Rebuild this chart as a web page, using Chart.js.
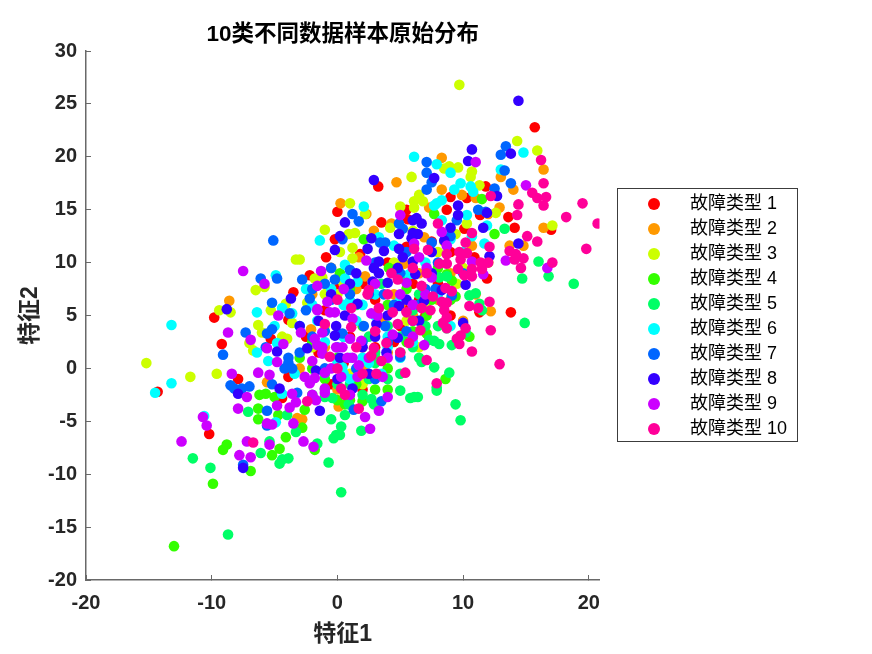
<!DOCTYPE html>
<html><head><meta charset="utf-8">
<style>html,body{margin:0;padding:0;background:#fff}canvas{display:block}</style>
<script src="https://cdn.jsdelivr.net/npm/chart.js@4"></script>
</head><body>
<canvas id="c" width="872" height="654"></canvas>
<script>
const chartTitle = "10类不同数据样本原始分布";
const xTitle = "特征1";
const yTitle = "特征2";
const seriesLabels = ["故障类型 1","故障类型 2","故障类型 3","故障类型 4","故障类型 5","故障类型 6","故障类型 7","故障类型 8","故障类型 9","故障类型 10"];
const seriesColors = ["#FF0000","#FF9900","#CCFF00","#33FF00","#00FF66","#00FFFF","#0066FF","#3300FF","#CC00FF","#FF0099"];

const type1 = [[15.7,22.8],[3.25,17.2],[9,16.2],[11.8,17.2],[10.3,16.1],[0,14.8],[8.7,15],[3.5,13.8],[13.6,14.3],[11.35,14.5],[14.1,13.3],[17,13.1],[10.1,13.2],[-0.2,12.2],[-0.9,10.5],[1.8,10.8],[-2.2,8.8],[11.9,8.5],[10.9,10.5],[5.5,15],[5.6,14.1],[13.8,5.3],[11.3,5.3],[-9.8,4.8],[-9.2,2.3],[-5.3,2.8],[-3.5,7.2],[-3.9,4.6],[-7.9,-1],[-10.2,-6.2],[-14.3,-2.2],[-3.9,-0.8],[-4.4,-2.8],[3,6.5],[5,4],[1,3],[6,8],[-1,5.5],[2,8],[4,10],[8,8],[7,5],[0.5,0.5],[3,2],[9,11],[7.5,12],[-2.5,3],[-1.5,1.5],[5.5,11.5],[5.5,5.5],[4.5,2.5],[0,7.5],[6.5,6.5],[9,5],[2,-2],[-0.5,-1.5]];
const type2 = [[-8.6,6.4],[-5.6,-1.3],[-3.2,-4.7],[0.25,15.6],[4.7,17.6],[16.4,18.8],[13,18.1],[14,16.9],[8.3,16.9],[9.9,16.4],[11,16.1],[8.3,19.9],[12.9,15.2],[16.4,13.3],[13.7,11.6],[14.8,11.6],[10.7,11.6],[6.9,12.4],[2.9,13],[2.3,14.6],[4.3,13.7],[1.7,10.5],[2.2,8.7],[5.3,9.9],[7.3,15.2],[12,14.6],[12.2,5.4],[0.1,-3.6],[-2.8,-4.8],[-2.1,3.7],[1,6],[-1,2],[3.5,4.5],[6,3],[8,6.5],[10,4.5],[-3,0],[0,-2],[4.5,7],[2,0],[11,7],[6.5,9],[9,9],[-0.5,9.5],[5,6],[6,5],[1.5,7.5],[4,1.5],[-2,7]];
const type3 = [[9.7,26.8],[14.3,21.5],[15.9,20.6],[17.1,13.5],[5.9,18.1],[9.6,19],[8.5,18.9],[8.9,19.1],[10.7,18.6],[10.6,18.1],[11.3,17.3],[1,15.6],[5,15.3],[6.1,15.8],[6.5,16.4],[6.8,15.8],[6.1,15.2],[12.6,14.7],[10.3,13.7],[4.2,13.3],[-1,13.1],[0.9,12.7],[1.4,12.8],[1.2,11.4],[0.2,11],[1.2,10.4],[9.4,12.7],[-3,10.3],[-1.8,8.5],[-1.2,8.6],[-0.7,7.5],[2.2,14.6],[-15.2,0.5],[-11.7,-0.8],[-9.6,-0.5],[-9.4,5.5],[-8.5,5.3],[-6.5,7.4],[-5.8,7.7],[-3.3,10.3],[-5.3,5.5],[-4.1,6.1],[-6.3,4.1],[-6,3.4],[-7,2.4],[-4.4,3],[-4,2.8],[-3.6,4.3],[-6.7,1.7],[-2.4,6.2],[3,8],[5,3],[-1,4],[7,6],[2,2],[1,-0.5],[8,11],[9.5,8],[4.5,10],[6,13],[12,10],[-2,2],[0,7],[5.5,4.5],[6.5,2],[-1,7],[0.5,8],[2,-1.5],[3,3.5],[10,9.5],[8.5,12]];
const type4 = [[-13,-16.8],[-9.9,-10.9],[-8.8,-7.2],[-9.1,-7.7],[-6.9,-9.7],[-6.2,-2.5],[-5.7,-2.4],[-6.3,-3.8],[-6.3,-4.8],[-4.1,-6.5],[-4.6,-7.6],[-5.2,-8.2],[-4.7,-4.4],[-5,-2.7],[-2.6,-3.9],[-2.8,-5.6],[-1.8,-7.7],[2,-3.1],[0.6,-3.4],[7.7,14.6],[11.5,16],[12.5,12.7],[2.1,12.2],[0.2,9],[4.1,9.5],[8.6,-1],[7.1,5],[7.1,3.3],[8.7,8.9],[9.1,8.3],[9.4,6.8],[0,1],[1.5,-1.5],[3,1],[5,1.5],[6,3.5],[7.5,6.5],[4,6],[2,4],[-1,-1],[-2,2.5],[1,-3],[4,0],[5.5,7.5],[9,6.5],[3,-2],[10.5,3],[-3,1],[5.5,2.5],[6.5,4.5],[1,7.5],[2.5,-0.5],[0,-3],[4,-2],[8,9.5],[-2,0]];
const type5 = [[-11.5,-8.5],[-10.1,-9.4],[-8.7,-15.7],[0.3,-11.7],[-7.1,-4.1],[-6.1,-8],[-4.6,-9],[-4.4,-8.6],[-3.9,-8.5],[-5.4,-6.9],[-3.3,-6],[-4,-4.4],[-0.7,-8.9],[-1.6,-7.1],[-0.3,-6.6],[-0.1,-6.3],[0.2,-6.3],[0.3,-5.5],[-0.5,-4.8],[0.6,-4.4],[1.9,-5.9],[9.4,-3.4],[9.8,-4.9],[7.9,-2.1],[5.8,-2.8],[6.1,-2.7],[6.4,-2.7],[5,-2.1],[2.7,-2.9],[2.9,-3.4],[0.9,-3.4],[-0.4,-2.8],[-1,-2.7],[18.8,8],[16,10.1],[16.8,8.7],[14.7,8.5],[14.9,4.3],[13.3,13.2],[11,7.1],[10.5,6.9],[11.3,6.1],[11.5,5.5],[8.9,-0.4],[7.7,0.1],[7.9,-1.8],[9.1,2.2],[10.2,3.4],[8.1,2.3],[7.3,2.7],[7.7,2.6],[8.7,3.8],[6.7,0.6],[8.7,8.7],[8.1,8.6],[3,0.5],[5,-0.5],[6,2],[2.5,-1],[0,-1.5],[-1,-0.5],[4,4],[1.5,6],[6,5.5],[8,4],[2.5,3],[-2,-2.5],[0.5,3],[3.5,8],[5,3],[6.5,1],[4,-1],[2,-2.5],[1,-1.5],[-1,-2],[7,4],[3,1.5],[8.5,6],[6.5,7],[5,8.5]];
const type6 = [[-13.2,4.1],[-13.2,-1.4],[-14.5,-2.3],[-10.6,-4.5],[-5.5,0.7],[-6.4,1.5],[-4.9,-5.1],[-4.4,-2.4],[-3.4,-0.5],[-6.4,5.3],[-4.9,8.8],[-5,4],[-4.4,5.7],[-3.6,5.2],[-4.8,2.4],[14.8,20.4],[6.1,20],[7.9,19.3],[9,18.5],[9.8,17.5],[9.3,16.9],[10.6,17.2],[10.8,16.7],[13,18.8],[8.3,15.9],[7.7,15.4],[7.9,15.6],[8.3,14],[2.1,15.3],[-1.4,12.1],[10.3,14.5],[11.9,13.5],[11.7,11.8],[9,12.2],[10.7,12.5],[3.3,12.4],[4.5,11.6],[0.6,9.8],[0.6,8.5],[1.6,8.2],[5.7,8.9],[0.4,0.1],[-1.6,4.5],[1,6.4],[0.5,3],[1,1],[2.5,0.5],[3.5,-0.5],[0.5,-0.5],[4,3],[6,6],[-1,2.5],[2,6],[3,5],[7,10],[8,7],[9,4],[-2,6],[1.5,4.5],[-3,4],[5,1],[0,0.5],[5,6.5],[6,2.5],[-0.5,7.5],[0.5,6],[2,1],[1,-1],[4,2],[-2.5,7.5],[3,7],[7.5,11],[10,11]];
const type7 = [[-5.1,12.1],[-6.1,8.5],[-4.8,8.5],[-5.2,6.2],[-3.8,5.2],[-7.3,3.4],[-5.6,3.3],[-5.2,3.7],[-5.7,2],[-9.1,1.3],[-8.5,-1.6],[-8.2,-1.9],[-7.6,-1.9],[-7,-1.7],[-5.2,-1.5],[-5.6,-4],[-7.5,-9.1],[-5.6,-5.4],[-3.9,1],[-3.9,0.5],[-4.2,0],[-3.6,0],[-3.2,-2.3],[13.4,21],[13,20.2],[13.3,18.7],[13.8,17.5],[12.5,17],[7.1,19.5],[7.1,18.5],[7.5,17.6],[7.1,16.9],[1.2,14.6],[1.7,13.9],[4.9,13.7],[5.2,13.2],[11.2,15],[7.5,11.9],[0.4,12.2],[3.4,11.9],[3.8,11.9],[1,9.3],[-0.2,8.4],[-2.8,8.4],[7.8,7.5],[9.1,6.9],[11.8,14.8],[3.5,-3.1],[1.3,-3.9],[2.1,4],[3.7,7],[3.8,4],[5,1.1],[0.4,3.3],[-2.2,6.6],[-2,3],[-3,1.5],[-0.5,6.5],[3,10],[5,9],[7,7.5],[6,4.5],[-1,0],[2,2.5],[4.5,6],[-2.5,5.5],[8,10],[9,12.5],[1,7],[-0.5,9.5],[2.5,7],[5.5,11],[5.5,3.5],[6.5,6],[-1,8],[-2,7.5],[0,2],[1.5,0],[3,-1],[4,2.5],[-1,3.5],[10,9],[9.5,14]];
const type8 = [[14.4,25.3],[10.7,20.7],[10.4,19.6],[13.8,20.3],[7.7,18],[2.9,17.8],[12.7,16.3],[9.6,15.4],[9.6,14.5],[11.9,14.7],[6.3,14.2],[6,14],[6.7,13.7],[11.6,13.3],[9,13.3],[0.6,13.8],[4.9,12.7],[6,12.8],[6.4,12.7],[5.9,12.3],[0.2,12.5],[2.7,12.3],[8.5,12.1],[14.4,11.8],[-0.2,11.2],[2.4,11.3],[3.7,11.1],[4.9,11.3],[5.2,10.5],[12.1,10.6],[3.3,10.1],[6,10.1],[1.5,9],[2.9,9.5],[3.3,9],[4.8,9.5],[2.8,8.2],[4,8.1],[6.2,8.9],[10.2,7.9],[10,4.3],[6.9,6.4],[8.3,7.4],[-8.8,5.6],[-3.7,6.6],[-7.9,-2.4],[-7.5,-9.4],[-4.6,-1.9],[-1.4,-4],[-4.8,1.6],[-2.4,1.9],[-3,4],[1.6,6.1],[-0.2,3.1],[-0.1,4],[3.1,4.2],[3.9,1.5],[-1.7,-0.2],[1.2,-1.9],[0.6,5],[0.2,1],[4.8,2.9],[4.9,5.9],[5.5,6.5],[6.5,4.5],[-0.5,7],[1,8],[2,2],[2.5,-0.5],[0,-1],[4,5],[3,3],[-1.5,4.5],[7.5,9],[7.5,11]];
const type9 = [[11,19.5],[15,17.3],[5,14.5],[8.3,12.9],[8.7,11.6],[2.3,10.2],[-1.3,9.2],[-1.6,7.8],[13.4,10.2],[16.7,9.5],[10.7,10.1],[11.6,8.9],[6.1,11.8],[6.5,10.5],[7.1,9.5],[7.5,8.6],[5.5,8.1],[6.9,2.2],[-7.5,9.2],[-5.8,8],[-8.7,3.4],[-4.7,5],[-6.9,2.7],[-4.3,2.3],[-5.6,1.9],[-8.4,-0.5],[-6.3,-0.4],[-5.4,-0.6],[-7.2,-2.7],[-7.9,-3.8],[-10.7,-4.6],[-10.4,-5.4],[-12.4,-6.9],[-7.2,-6.9],[-7.8,-8.2],[-6.9,-8.4],[-5.4,-7.2],[-5.6,-5.2],[-5.2,-5.3],[-3.5,-5.2],[-4.8,-3.5],[-3.6,-2.4],[-3.8,-3.7],[-3.3,-3.2],[-4.8,0.6],[-1.9,-7.4],[-2.7,-6.9],[2.6,-5.7],[3.3,-4],[2.2,-4.6],[4,-2.7],[-1.7,-3],[-2,-2.5],[-1,-2.3],[-0.8,6.3],[-1.6,5.6],[-0.6,5.3],[-0.2,5.3],[1.2,4.7],[2.7,5.2],[3.2,5],[4.4,3.2],[1.9,2.6],[1,2.8],[-1.8,2.8],[-1.6,2.2],[-1.2,2],[-1.2,1.4],[-0.1,2],[0.4,2],[0.8,1],[1.2,1],[1.7,0.3],[-2,0.7],[-1,-0.4],[-2.6,-0.8],[-1.8,-0.9],[-2.2,-1.4],[0.3,-0.8],[1.6,-0.8],[3.6,-0.8],[-2.9,3.4],[-1.2,3.4],[-1,-1.9],[-1.6,5.5],[6,3],[5,7],[0.5,7.5],[3,8],[1,-2.5],[2.5,1],[-0.5,0],[7,7],[4,1],[6,6]];
const type10 = [[19.5,15.6],[18.2,14.3],[20.7,13.7],[19.8,11.3],[17.1,10],[15.9,12],[15.1,12.5],[16.6,16.2],[16.4,15.4],[15.9,16.1],[15.5,16.6],[14.4,15.5],[14.3,14.5],[12.2,16.3],[16.2,19.7],[16.4,17.5],[10.7,12.8],[10.2,11.9],[12.1,11.5],[13.7,11.1],[14.2,10.8],[14.8,10.4],[14.1,10.3],[14.6,9.5],[8,13.7],[7.2,11.2],[8.7,10.8],[9.7,11],[10.3,10.9],[9.8,10.3],[8.1,9.9],[8.7,9.9],[9.6,9.4],[10.1,8.8],[10.7,8.7],[10.7,9.4],[11.4,10],[12,10],[11.5,9.4],[7.1,9],[6.7,7.8],[8.6,7.6],[9.1,7.3],[7.6,6.8],[8.3,6.3],[8.7,6.2],[12.1,6.3],[10.5,5.9],[11.2,5.7],[6.7,5.7],[7.4,5.5],[8.5,5.5],[8.7,4.8],[8.4,4.3],[8.7,3.8],[10.2,3.8],[9.8,3.1],[9.5,2.8],[9.7,2.3],[12.2,3.6],[10.7,1.6],[12.9,0.4],[7.1,0.8],[7.9,-1.4],[6.6,3.6],[-1,4.2],[1.1,5.7],[1.1,3.9],[3.3,5.7],[4.4,5.3],[4.8,4.2],[3.9,2.4],[2.9,1.9],[2.7,1.2],[3.5,0.7],[-0.6,1.1],[3.1,-0.5],[5.4,-0.4],[5.7,2.4],[2.4,7],[5.5,5.3],[0.3,-1.9],[-2.4,-3.1],[0.6,-2.5],[1.7,-3.8],[-6.7,-7],[4.3,9],[4.8,8.4],[6.1,11.3],[2.5,7.4],[6,4.5],[5,1.5],[1.5,2],[3,3.5],[0,0],[2,-0.5],[4,7],[6,9.5],[0,6.5]];
const seriesValues = [type1,type2,type3,type4,type5,type6,type7,type8,type9,type10];

const xTicks = [-20,-10,0,10,20];
const yTicks = [-20,-15,-10,-5,0,5,10,15,20,25,30];

const LATIN_CJK = '"Liberation Sans","Noto Sans CJK SC",sans-serif';
const axisColor = '#696969';
const tickTextColor = '#262626';

// places the legend and draws its frame
const legendFrame = {
  id:'legendFrame',
  afterLayout(chart){
    const l = chart.legend;
    l.left = 638; l.top = 188; l.right = 800; l.bottom = 500;
    l.width = 162; l.height = 312;
  },
  afterDraw(chart){
    const c = chart.ctx;
    c.save(); c.strokeStyle = '#3c3c3c'; c.lineWidth = 1;
    c.strokeRect(617.5,188.5,180,253);
    c.restore();
  }
};

new Chart(document.getElementById('c').getContext('2d'),{
  type:'scatter',
  data:{datasets:seriesValues.map((pts,i)=>({
    label:seriesLabels[i],
    data:pts.map(p=>({x:p[0],y:p[1]})),
    backgroundColor:seriesColors[i],
    borderWidth:0,
    pointRadius:5.3,
    pointHoverRadius:5.3,
    order:seriesValues.length-i
  }))},
  plugins:[legendFrame],
  options:{
    responsive:false,animation:false,
    events:[],
    layout:{padding:{top:0,right:272.5,bottom:0,left:0}},
    scales:{
      x:{type:'linear',min:-20,max:20.85,
        afterFit(s){s.height=74;},
        afterBuildTicks(s){s.ticks=xTicks.map(v=>({value:v}));},
        border:{color:axisColor,width:1.5},
        grid:{drawOnChartArea:false,color:axisColor,tickColor:axisColor,tickLength:-5,tickWidth:1},
        ticks:{autoSkip:false,maxRotation:0,color:tickTextColor,padding:16,font:{family:LATIN_CJK,size:20,weight:'bold'}},
        title:{display:true,text:xTitle,color:tickTextColor,padding:{top:8,bottom:6},font:{family:LATIN_CJK,size:23,weight:'bold'}}
      },
      y:{type:'linear',min:-20,max:30,
        afterFit(s){s.width=86;},
        afterBuildTicks(s){s.ticks=yTicks.map(v=>({value:v}));},
        border:{color:axisColor,width:1.5},
        grid:{drawOnChartArea:false,color:axisColor,tickColor:axisColor,tickLength:-5,tickWidth:1},
        ticks:{autoSkip:false,color:tickTextColor,padding:14,font:{family:LATIN_CJK,size:20,weight:'bold'}},
        title:{display:true,text:yTitle,color:tickTextColor,padding:{top:17,bottom:0},font:{family:LATIN_CJK,size:23,weight:'bold'}}
      }
    },
    plugins:{
      title:{display:true,text:chartTitle,fullSize:false,color:'#000',align:'center',padding:{top:21,bottom:3},font:{family:LATIN_CJK,size:22.5,weight:'bold'}},
      legend:{display:true,position:'chartArea',align:'start',
        labels:{
          usePointStyle:true,pointStyle:'circle',boxHeight:8.5,boxWidth:18,padding:7,color:'#000',
          font:{family:LATIN_CJK,size:18},
          generateLabels(chart){
            return chart.data.datasets.map((d,i)=>({
              text:'\u3000'+d.label,fillStyle:d.backgroundColor,strokeStyle:d.backgroundColor,
              lineWidth:0,pointStyle:'circle',hidden:false,datasetIndex:i
            }));
          }
        }
      },
      tooltip:{enabled:false}
    }
  }
});
</script>
</body></html>
